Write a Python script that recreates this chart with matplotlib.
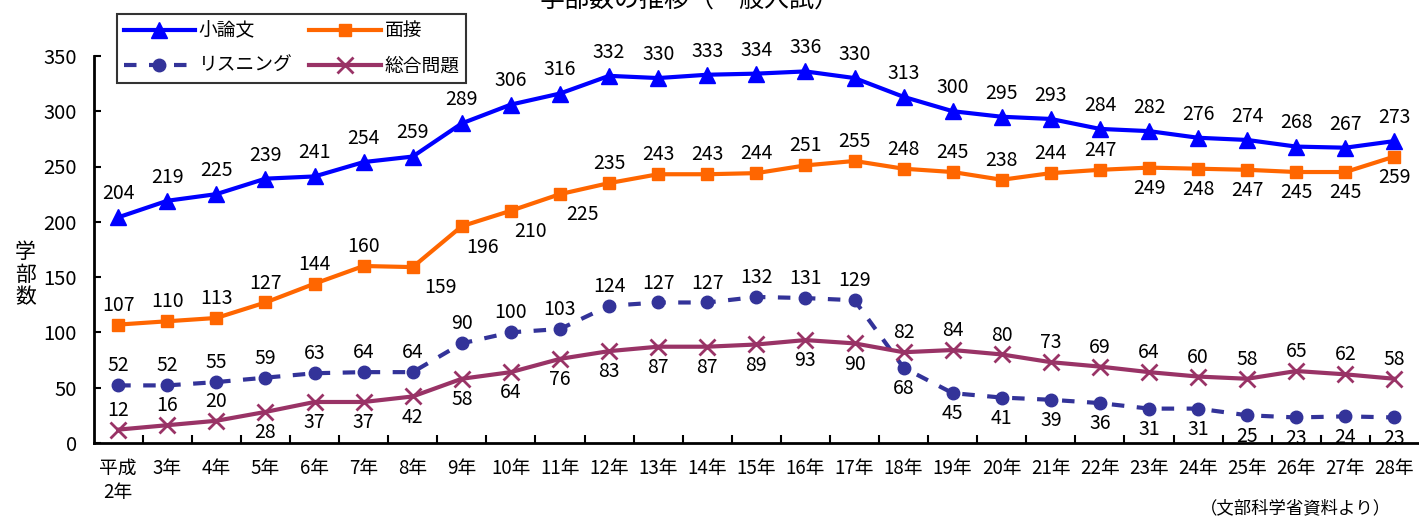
import numpy as np
import matplotlib
matplotlib.use("Agg")
import matplotlib.pyplot as plt

plt.rcParams['font.family'] = ['Noto Sans CJK JP', 'DejaVu Sans']

## data
years = ["平成\n2年"] + [f"{y}年" for y in range(3, 29)]
shoronbun = [204, 219, 225, 239, 241, 254, 259, 289, 306, 316, 332, 330, 333, 334, 336,
             330, 313, 300, 295, 293, 284, 282, 276, 274, 268, 267, 273]
mensetsu = [107, 110, 113, 127, 144, 160, 159, 196, 210, 225, 235, 243, 243, 244, 251,
            255, 248, 245, 238, 244, 247, 249, 248, 247, 245, 245, 259]
listening = [52, 52, 55, 59, 63, 64, 64, 90, 100, 103, 124, 127, 127, 132, 131,
             129, 68, 45, 41, 39, 36, 31, 31, 25, 23, 24, 23]
sogo = [12, 16, 20, 28, 37, 37, 42, 58, 64, 76, 83, 87, 87, 89, 93,
        90, 82, 84, 80, 73, 69, 64, 60, 58, 65, 62, 58]

## label placement: 1 = above, -1 = below
mensetsu_pos = [1, 1, 1, 1, 1, 1, -1, -1, -1, -1, 1, 1, 1, 1, 1,
                1, 1, 1, 1, 1, 1, -1, -1, -1, -1, -1, -1]
mensetsu_dx = [0] * 6 + [20, 15, 14, 16] + [0] * 17
listening_pos = [1] * 16 + [-1] * 11
sogo_pos = [1, 1, 1] + [-1] * 13 + [1] * 11

x = np.arange(len(years))

fig = plt.figure(figsize=(14.19, 5.18), dpi=100)
ax = fig.add_axes([0.066, 0.145, 0.934, 0.747])

l1, = ax.plot(x, shoronbun, color='#0000FF', lw=3, marker='^', ms=11, label='小論文')
l2, = ax.plot(x, mensetsu, color='#FF6600', lw=3, marker='s', ms=9, label='面接')
l3, = ax.plot(x, listening, color='#333399', lw=3, ls=(0, (3, 3)), marker='o', ms=9,
              label='リスニング')
l4, = ax.plot(x, sogo, color='#993366', lw=3, marker='x', ms=11, mew=2, label='総合問題')

def put_labels(vals, pos, dxs=None, up=14, down=-15):
    for i, (v, p) in enumerate(zip(vals, pos)):
        dy = up if p > 0 else down
        dx = dxs[i] if dxs else 0
        ax.annotate(str(v), (i, v), xytext=(dx, dy), textcoords='offset points',
                    ha='center', va='center', fontsize=14)

put_labels(shoronbun, [1] * len(shoronbun), up=17)
put_labels(mensetsu, mensetsu_pos, mensetsu_dx)
put_labels(listening, listening_pos)
put_labels(sogo, sogo_pos)

ax.set_xlim(-0.5, len(years) - 0.5)
ax.set_ylim(0, 350)
ax.set_yticks(range(0, 351, 50))
ax.tick_params(axis='y', direction='in', length=5, width=1.5, labelsize=14.5, pad=12)
ax.set_xticks(x)
ax.set_xticklabels(years, fontsize=13.5, va='top', ha='center', linespacing=1.15)
ax.tick_params(axis='x', length=0, pad=11)
ax.set_xticks(np.arange(0.5, len(years) - 0.5, 1), minor=True)
ax.tick_params(axis='x', which='minor', direction='in', length=6, width=1.5)
ax.spines[['top', 'right']].set_visible(False)
ax.spines[['left', 'bottom']].set_linewidth(2)

fig.text(0.018, 0.47, "学\n部\n数", fontsize=15, ha='center', va='center', linespacing=1.05)
fig.text(0.486, 1.0, "学部数の推移（一般入試）", fontsize=18, ha='center', va='center')
fig.text(0.98, 0.019, "（文部科学省資料より）", fontsize=12.5, ha='right', va='center')

## legend filled column-wise, so order gives rows: 小論文 面接 / リスニング 総合問題
leg = fig.legend([l1, l3, l2, l4], ['小論文', 'リスニング', '面接', '総合問題'],
                 loc='upper left', bbox_to_anchor=(0.076, 0.992), ncol=2, fontsize=13.5,
                 frameon=True, fancybox=False, edgecolor='black', handlelength=3.8,
                 handletextpad=0.2, columnspacing=0.9, borderpad=0.35, labelspacing=0.75)
leg.get_frame().set_linewidth(1.5)

plt.savefig("out.png", dpi=100)
